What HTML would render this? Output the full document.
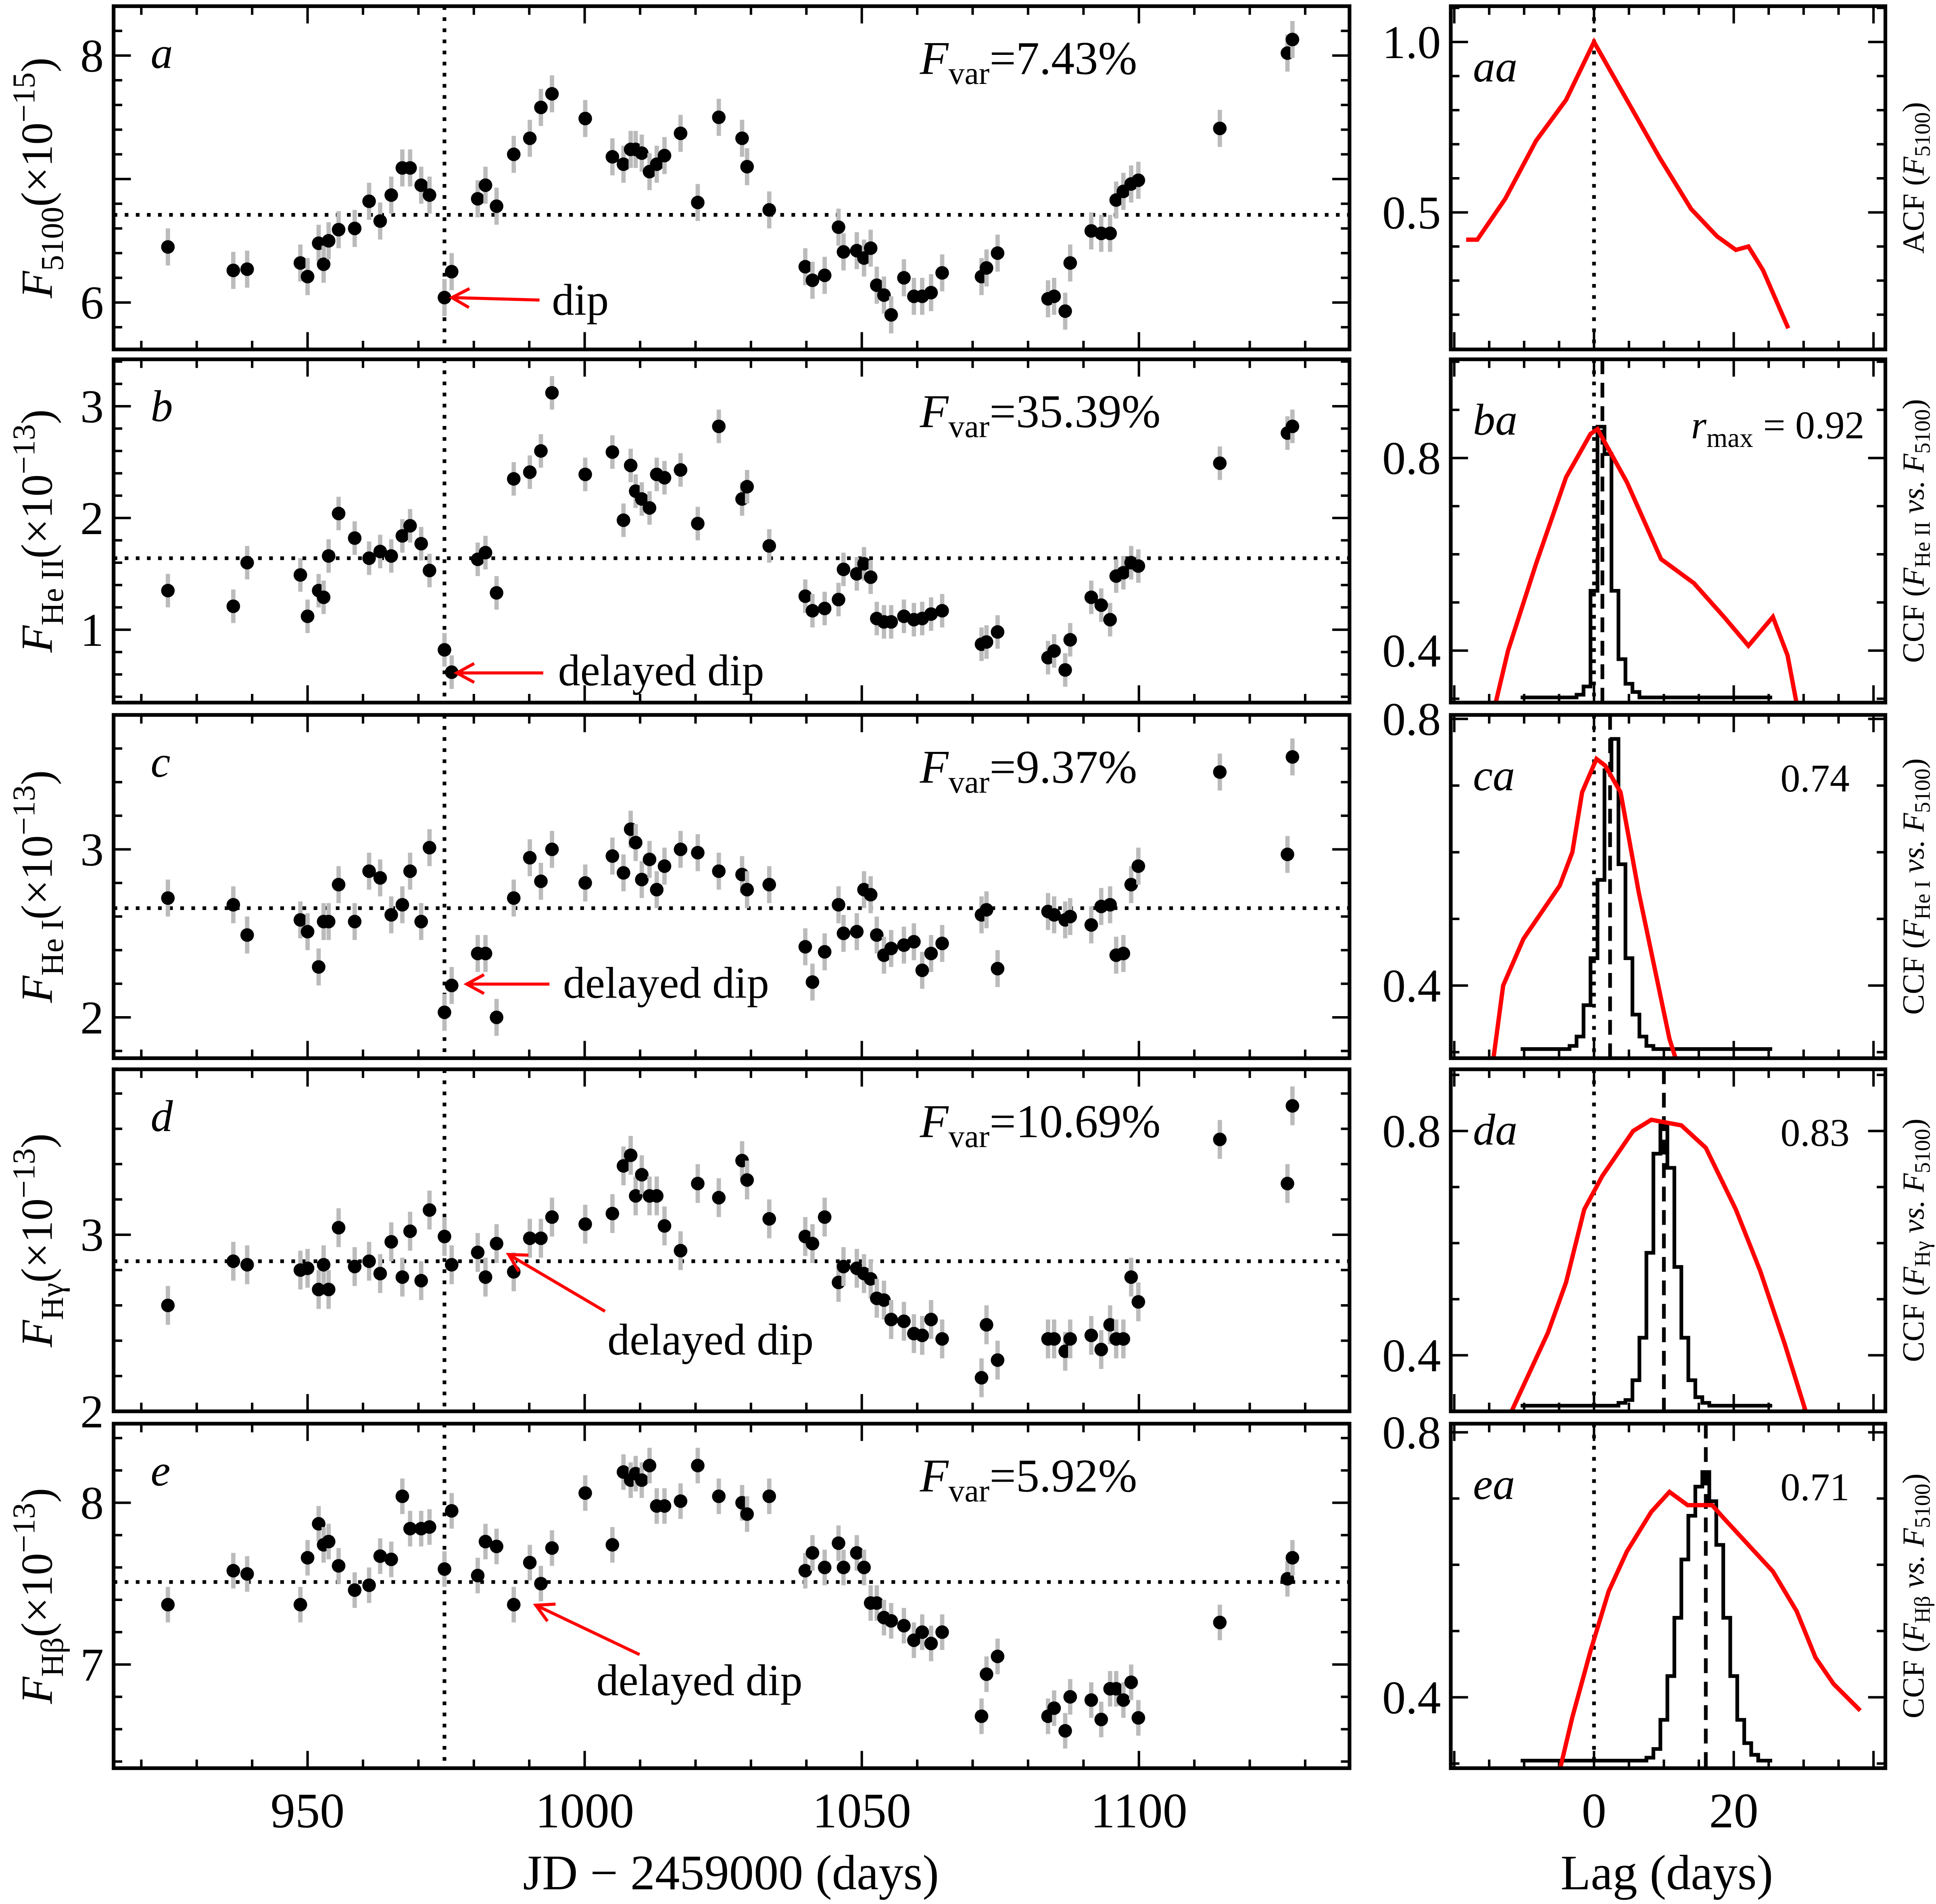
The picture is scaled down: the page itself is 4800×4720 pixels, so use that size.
<!DOCTYPE html>
<html><head><meta charset="utf-8"><style>
html,body{margin:0;padding:0;background:#fff}
svg{display:block}
text{font-family:"Liberation Serif",serif;fill:#000}
</style></head><body>
<svg id="fig" xmlns="http://www.w3.org/2000/svg" width="4800" height="4720" viewBox="0 0 1568 1542" preserveAspectRatio="none">
<rect x="0" y="0" width="1568" height="1542" fill="#fff"/>
</svg>
<script>
// ---------- data ----------
const days=[924.8,936.6,939.1,948.7,950,952,952.9,953.8,955.6,958.5,961.1,963.1,965.1,967.1,968.5,970.5,972,974.7,976,980.7,982.1,984.1,987.2,990.1,992.1,994.1,1000.1,1005,1007,1008.3,1009.2,1010.3,1011.7,1013,1014.4,1017.3,1020.4,1024.2,1028.4,1029.3,1033.3,1039.8,1041.1,1043.3,1045.8,1046.7,1049.1,1050.4,1051.6,1052.7,1054,1055.3,1057.6,1059.4,1060.9,1062.5,1064.5,1071.6,1072.5,1074.5,1083.6,1084.7,1086.7,1087.6,1091.4,1093.2,1094.8,1095.9,1097.2,1098.6,1099.9,1114.6,1126.8,1127.7];
const fluxA=[6.45,6.26,6.27,6.32,6.21,6.48,6.31,6.5,6.59,6.6,6.82,6.66,6.87,7.09,7.09,6.95,6.87,6.04,6.25,6.84,6.95,6.78,7.2,7.33,7.58,7.69,7.49,7.18,7.12,7.24,7.24,7.21,7.06,7.12,7.19,7.37,6.81,7.5,7.33,7.1,6.75,6.29,6.18,6.22,6.61,6.41,6.42,6.36,6.44,6.14,6.06,5.9,6.2,6.05,6.05,6.08,6.24,6.21,6.28,6.4,6.03,6.05,5.93,6.32,6.58,6.56,6.56,6.83,6.9,6.96,6.99,7.41,8.02,8.13];
const fluxB=[1.35,1.21,1.6,1.49,1.12,1.35,1.29,1.66,2.04,1.82,1.64,1.70,1.66,1.84,1.93,1.77,1.53,0.82,0.62,1.63,1.69,1.33,2.35,2.41,2.6,3.12,2.39,2.59,1.98,2.47,2.24,2.17,2.09,2.39,2.36,2.43,1.95,2.82,2.17,2.28,1.75,1.3,1.17,1.19,1.27,1.54,1.5,1.59,1.47,1.1,1.07,1.07,1.12,1.09,1.1,1.14,1.17,0.87,0.89,0.98,0.75,0.81,0.64,0.91,1.29,1.22,1.09,1.48,1.51,1.6,1.57,2.49,2.76,2.82];
const fluxC=[2.71,2.67,2.49,2.58,2.51,2.3,2.57,2.57,2.79,2.57,2.87,2.83,2.61,2.67,2.87,2.57,3.01,2.03,2.19,2.38,2.38,2.0,2.71,2.95,2.81,3.0,2.8,2.96,2.86,3.12,3.04,2.82,2.94,2.76,2.9,3.0,2.98,2.87,2.85,2.76,2.79,2.42,2.21,2.39,2.67,2.5,2.51,2.76,2.73,2.49,2.37,2.41,2.43,2.45,2.28,2.38,2.44,2.61,2.64,2.29,2.63,2.61,2.58,2.6,2.55,2.66,2.67,2.37,2.38,2.79,2.9,3.46,2.97,3.55];
const fluxD=[2.6,2.85,2.83,2.8,2.81,2.69,2.83,2.69,3.04,2.82,2.85,2.78,2.96,2.76,3.02,2.74,3.14,2.99,2.83,2.9,2.76,2.95,2.79,2.98,2.98,3.1,3.06,3.12,3.39,3.45,3.22,3.34,3.22,3.22,3.05,2.91,3.29,3.21,3.42,3.31,3.09,2.99,2.95,3.1,2.73,2.82,2.81,2.78,2.75,2.64,2.63,2.52,2.51,2.44,2.43,2.52,2.41,2.19,2.49,2.29,2.41,2.41,2.34,2.41,2.43,2.35,2.49,2.41,2.41,2.76,2.62,3.54,3.29,3.73];
const fluxE=[7.37,7.58,7.56,7.37,7.66,7.87,7.74,7.76,7.61,7.46,7.49,7.67,7.65,8.04,7.84,7.84,7.85,7.59,7.95,7.55,7.76,7.73,7.37,7.63,7.5,7.72,8.06,7.74,8.19,8.14,8.18,8.14,8.23,7.98,7.98,8.01,8.23,8.04,8.0,7.93,8.04,7.58,7.69,7.6,7.75,7.6,7.69,7.6,7.38,7.38,7.29,7.27,7.24,7.15,7.2,7.13,7.2,6.68,6.94,7.05,6.68,6.73,6.59,6.8,6.78,6.66,6.85,6.85,6.78,6.89,6.67,7.26,7.53,7.66];
const fluxMeans=[6.71,1.64,2.65,2.85,7.51];
const fluxErrs=[0.15,0.15,0.11,0.11,0.11];
const fvarLabels=["7.43%","35.39%","9.37%","10.69%","5.92%"];
const dipDay=974.7;
// correlation functions
const lagA=[-18.3,-16.7,-12.7,-8.3,-4,0,4.7,9.4,13.9,17.6,20.3,22.1,24.2,27.8];
const ccfA=[0.42,0.42,0.54,0.71,0.83,1.0,0.83,0.66,0.51,0.43,0.39,0.40,0.33,0.16];
const lagB=[-14.1,-12.3,-8.3,-4,-0.5,0.5,4.7,9.6,14.3,18.6,22.1,25.6,27.7,29];
const ccfB=[0.29,0.40,0.58,0.76,0.85,0.86,0.75,0.59,0.54,0.47,0.41,0.47,0.39,0.29];
const lagC=[-14.4,-13,-10.1,-7.5,-4.9,-3.1,-1.7,0.35,1.6,3.8,6.4,9,10.8,11.7];
const ccfC=[0.29,0.40,0.47,0.51,0.55,0.60,0.69,0.74,0.73,0.69,0.54,0.41,0.32,0.29];
const lagD=[-11.8,-9.2,-6.6,-4,-1.4,1.2,5.6,8.2,12.5,16,20.3,23.8,27.3,30.3];
const ccfD=[0.30,0.37,0.44,0.53,0.66,0.72,0.80,0.82,0.81,0.77,0.66,0.55,0.42,0.30];
const lagE=[-4.9,-3.1,-0.5,2.1,4.7,8.2,10.8,13.4,16.9,18.6,22.1,25.6,29,31.7,34.3,38.1];
const ccfE=[0.29,0.37,0.47,0.56,0.62,0.68,0.71,0.69,0.69,0.67,0.63,0.59,0.53,0.46,0.42,0.38];
// centroid distributions (bin centre lag, relative count)
const binLags=[-10,-9,-8,-7,-6,-5,-4,-3,-2,-1,0,1,2,3,4,5,6,7,8,9,10,11,12,13,14,15,16,17,18,19,20,21,22,23,24,25];
const histB=[0.01,0.01,0.01,0.01,0.01,0.01,0.01,0.01,0.02,0.05,0.4,1.0,0.9,0.4,0.15,0.06,0.03,0.01,0.01,0.01,0.01,0.01,0.01,0.01,0.01,0.01,0.01,0.01,0.01,0.01,0.01,0.01,0.01,0.01,0.01,0.01];
const histC=[0.01,0.01,0.01,0.01,0.01,0.01,0.01,0.02,0.05,0.15,0.3,0.55,0.9,1.0,0.6,0.3,0.12,0.05,0.02,0.01,0.01,0.01,0.01,0.01,0.01,0.01,0.01,0.01,0.01,0.01,0.01,0.01,0.01,0.01,0.01,0.01];
const histD=[0.01,0.01,0.01,0.01,0.01,0.01,0.01,0.01,0.01,0.01,0.01,0.01,0.01,0.01,0.02,0.03,0.1,0.25,0.55,0.9,1.0,0.85,0.5,0.25,0.1,0.04,0.02,0.01,0.01,0.01,0.01,0.01,0.01,0.01,0.01,0.01];
const histE=[0.01,0.01,0.01,0.01,0.01,0.01,0.01,0.01,0.01,0.01,0.01,0.01,0.01,0.01,0.01,0.01,0.01,0.01,0.02,0.05,0.15,0.3,0.5,0.7,0.85,0.95,1.0,0.9,0.75,0.5,0.3,0.15,0.07,0.03,0.01,0.01];
const centroids=[null,1.2,2.3,10,16];
const rmaxLabels=["","","0.74","0.83","0.71"];

// ---------- layout ----------
const NS="http://www.w3.org/2000/svg";
const svg=document.getElementById('fig');
function el(tag,attrs,parent){const e=document.createElementNS(NS,tag);for(const k in attrs)e.setAttribute(k,attrs[k]);(parent||svg).appendChild(e);return e;}
const LX0=92,LX1=1093,RX0=1175,RX1=1527;
const dayMin=915.0,dayMax=1138.0,lagMin=-20.5,lagMax=41.7;
const xDay=d=>LX0+(d-dayMin)/(dayMax-dayMin)*(LX1-LX0);
const xLag=l=>RX0+(l-lagMin)/(lagMax-lagMin)*(RX1-RX0);
const rows=[{t:5,b:283,vmin:5.62,vmax:8.4,ticks:[6,8],minor:0.2,rmin:0.098,rmax:1.105,rt:[0.5,1.0]},
{t:291,b:569,vmin:0.348,vmax:3.42,ticks:[1,2,3],minor:0.2,rmin:0.292,rmax:1.005,rt:[0.4,0.8]},
{t:579,b:857,vmin:1.757,vmax:3.80,ticks:[2,3],minor:0.2,rmin:0.291,rmax:0.806,rt:[0.4,0.8]},
{t:866,b:1143,vmin:2.0,vmax:3.937,ticks:[2,3],minor:0.2,rmin:0.30,rmax:0.91,rt:[0.4,0.8]},
{t:1153,b:1432,vmin:6.359,vmax:8.489,ticks:[7,8],minor:0.2,rmin:0.293,rmax:0.813,rt:[0.4,0.8]}];
const fluxes=[fluxA,fluxB,fluxC,fluxD,fluxE];
const lags=[lagA,lagB,lagC,lagD,lagE], ccfs=[ccfA,ccfB,ccfC,ccfD,ccfE];
const hists=[null,histB,histC,histD,histE];
const histBase=[0,0.297,0.30,0.305,0.30];
const histPeak=[0,0.865,0.77,0.81,0.74];
const letters=['a','b','c','d','e'];
const ylabNames=[['F','5100','(×10','−15',')'],['F','He II','(×10','−13',')'],['F','He I','(×10','−13',')'],['F','Hγ','(×10','−13',')'],['F','Hβ','(×10','−13',')']];
const ccfSub=['','He II','He I','Hγ','Hβ'];

rows.forEach((R,i)=>{
  const yv=v=>R.b-(v-R.vmin)/(R.vmax-R.vmin)*(R.b-R.t);
  const yr=v=>R.b-(v-R.rmin)/(R.rmax-R.rmin)*(R.b-R.t);
  const gL=el('g',{});
  
  
  for(let d=920;d<=1130;d+=10){const x=xDay(d);const L=(d%50===0)?14:7;
    el('line',{x1:x,y1:R.b,x2:x,y2:R.b-L,stroke:'#000','stroke-width':2},gL);
    el('line',{x1:x,y1:R.t,x2:x,y2:R.t+L,stroke:'#000','stroke-width':2},gL);}
  for(let v=Math.ceil(R.vmin/R.minor)*R.minor;v<=R.vmax;v+=R.minor){const y=yv(v);const maj=Math.abs(v-Math.round(v))<1e-6;const L=maj?14:7;
    el('line',{x1:LX0,y1:y,x2:LX0+L,y2:y,stroke:'#000','stroke-width':2},gL);
    el('line',{x1:LX1,y1:y,x2:LX1-L,y2:y,stroke:'#000','stroke-width':2},gL);}
  R.ticks.forEach(v=>{const t=el('text',{x:LX0-8,y:yv(v)+13,'font-size':38,'text-anchor':'end'},gL);t.textContent=v;
    });
  el('line',{x1:LX0,y1:yv(fluxMeans[i]),x2:LX1,y2:yv(fluxMeans[i]),stroke:'#000','stroke-width':3,'stroke-dasharray':'3 6'},gL);
  el('line',{x1:xDay(dipDay),y1:R.t,x2:xDay(dipDay),y2:R.b,stroke:'#000','stroke-width':3,'stroke-dasharray':'3 6'},gL);
  const vals=fluxes[i];
  days.forEach((d,k)=>{const x=xDay(d),y=yv(vals[k]);const e=fluxErrs[i];
    const eb=el('line',{x1:x,y1:yv(vals[k]+e),x2:x,y2:yv(vals[k]-e),stroke:'#bbb','stroke-width':3.5},gL);
    
    const c=el('circle',{cx:x,cy:y,r:5.5,fill:'#000'},gL);
    });
  el('rect',{x:LX0,y:R.t,width:LX1-LX0,height:R.b-R.t,fill:'none',stroke:'#000','stroke-width':3},gL);
  const lt=el('text',{x:122,y:R.t+50,'font-size':36,'font-style':'italic'},gL);lt.textContent=letters[i];
  
  const fv=el('text',{x:745,y:R.t+55,'font-size':38},gL);
  
  fv.innerHTML='<tspan font-style="italic">F</tspan><tspan font-size="26" dy="8">var</tspan><tspan dy="-8">='+fvarLabels[i]+'</tspan>';
  const n=ylabNames[i];const cy=(R.t+R.b)/2;
  const yt=el('text',{x:0,y:0,'font-size':36,'text-anchor':'middle',transform:`translate(42,${cy}) rotate(-90)`},gL);
  
  yt.innerHTML=`<tspan font-style="italic">${n[0]}</tspan><tspan font-size="26" dy="9">${n[1]}</tspan><tspan dy="-9">${n[2]}</tspan><tspan font-size="26" dy="-14">${n[3]}</tspan><tspan dy="14">${n[4]}</tspan>`;

  const gR=el('g',{});
  
  
  for(let l=-20;l<=40;l+=5){const x=xLag(l);const L=(l%20===0)?14:7;
    el('line',{x1:x,y1:R.b,x2:x,y2:R.b-L,stroke:'#000','stroke-width':2},gR);
    el('line',{x1:x,y1:R.t,x2:x,y2:R.t+L,stroke:'#000','stroke-width':2},gR);}
  for(let k=0;k<=20;k++){const v=k*0.1;if(v<R.rmin||v>R.rmax)continue;const y=yr(v);const maj=R.rt.some(t=>Math.abs(t-v)<1e-6);const L=maj?14:7;
    el('line',{x1:RX0,y1:y,x2:RX0+L,y2:y,stroke:'#000','stroke-width':2},gR);
    el('line',{x1:RX1,y1:y,x2:RX1-L,y2:y,stroke:'#000','stroke-width':2},gR);}
  const rtl=i===0?['0.5','1.0']:['0.4','0.8'];
  R.rt.forEach((v,k)=>{const t=el('text',{x:RX0-8,y:yr(v)+13,'font-size':38,'text-anchor':'end'},gR);t.textContent=rtl[k];
    });
  el('line',{x1:xLag(0),y1:R.t,x2:xLag(0),y2:R.b,stroke:'#000','stroke-width':3,'stroke-dasharray':'3 6'},gR);
  if(hists[i]){const h=hists[i];const w=1;let dstr='';
    binLags.forEach((b,k)=>{const y=yr(histBase[i]+h[k]*(histPeak[i]-histBase[i]));const x0=xLag(b-w/2),x1=xLag(b+w/2);
      dstr+=(k===0?`M${x0},${y}`:`L${x0},${y}`)+`L${x1},${y}`;});
    const hp=el('path',{d:dstr,fill:'none',stroke:'#000','stroke-width':3},gR);
    
    el('line',{x1:xLag(centroids[i]),y1:R.t,x2:xLag(centroids[i]),y2:R.b,stroke:'#000','stroke-width':3,'stroke-dasharray':'12 7'},gR);}
  const cl=el('clipPath',{id:'clip'+i},gR);el('rect',{x:RX0,y:R.t,width:RX1-RX0,height:R.b-R.t},cl);
  const pts=lags[i].map((l,k)=>xLag(l)+','+yr(ccfs[i][k])).join(' ');
  const pl=el('polyline',{points:pts,fill:'none',stroke:'#f00','stroke-width':3.5,'clip-path':`url(#clip${i})`},gR);
  
  el('rect',{x:RX0,y:R.t,width:RX1-RX0,height:R.b-R.t,fill:'none',stroke:'#000','stroke-width':3},gR);
  const rl=el('text',{x:1193,y:R.t+61,'font-size':36,'font-style':'italic'},gR);rl.textContent=letters[i]+'a';
  
  if(rmaxLabels[i]){const t=el('text',{x:1498,y:R.t+62,'font-size':32,'text-anchor':'end'},gR);t.textContent=rmaxLabels[i];
    }
  const rt=el('text',{x:0,y:0,'font-size':25,'text-anchor':'middle',transform:`translate(1558,${cy}) rotate(-90)`},gR);
  
  if(i===0) rt.innerHTML='ACF (<tspan font-style="italic">F</tspan><tspan font-size="18" dy="5">5100</tspan><tspan dy="-5">)</tspan>';
  else rt.innerHTML=`CCF (<tspan font-style="italic">F</tspan><tspan font-size="18" dy="5">${ccfSub[i]}</tspan><tspan dy="-5" font-style="italic"> vs. F</tspan><tspan font-size="18" dy="5">5100</tspan><tspan dy="-5">)</tspan>`;
});
const rm=el('text',{x:1510,y:355,'font-size':32,'text-anchor':'end'});

rm.innerHTML='<tspan font-style="italic">r</tspan><tspan font-size="22" dy="7">max</tspan><tspan dy="-7"> = 0.92</tspan>';

const arrows=[[437,243,366,241,447,255,'dip'],[440,545,370,545,452,555,'delayed dip'],[445,797,378,797,456,808,'delayed dip'],[490,1062,412,1016,492,1097,'delayed dip'],[518,1340,434,1300,483,1373,'delayed dip']];
arrows.forEach(a=>{
  const g=el('g',{});
  
  el('line',{x1:a[0],y1:a[1],x2:a[2],y2:a[3],stroke:'#f00','stroke-width':2.5},g);
  const ang=Math.atan2(a[3]-a[1],a[2]-a[0]);const L=16,W=0.5;
  const p1=[a[2]-L*Math.cos(ang-W),a[3]-L*Math.sin(ang-W)],p2=[a[2]-L*Math.cos(ang+W),a[3]-L*Math.sin(ang+W)];
  el('polyline',{points:`${p1} ${a[2]},${a[3]} ${p2}`,fill:'none',stroke:'#f00','stroke-width':2.5},g);
  const t=el('text',{x:a[4],y:a[5],'font-size':36},g);t.textContent=a[6];
});
[950,1000,1050,1100].forEach(d=>{const t=el('text',{x:xDay(d),y:1480,'font-size':40,'text-anchor':'middle'});t.textContent=d;
  });
[0,20].forEach(l=>{const t=el('text',{x:xLag(l),y:1480,'font-size':40,'text-anchor':'middle'});t.textContent=l;
  });
const xt=el('text',{x:592,y:1530,'font-size':40,'text-anchor':'middle'});xt.textContent='JD − 2459000 (days)';

const lt2=el('text',{x:1350,y:1530,'font-size':40,'text-anchor':'middle'});lt2.textContent='Lag (days)';

</script>
</body></html>
